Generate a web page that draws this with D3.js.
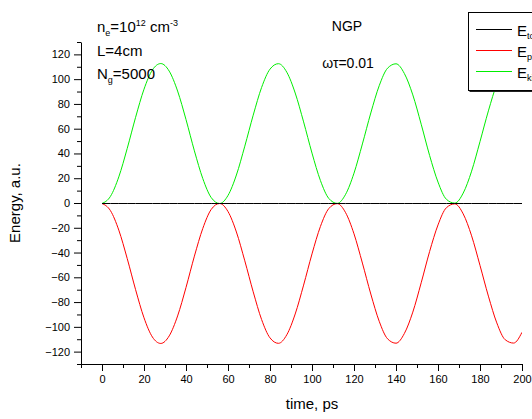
<!DOCTYPE html>
<html>
<head>
<meta charset="utf-8">
<script src="https://cdn.jsdelivr.net/npm/d3@7"></script>
<style>
  body { margin: 0; background: #fff; }
  svg { display: block; font-family: Arial, "Liberation Sans", sans-serif; }
</style>
</head>
<body>
<svg id="chart" width="532" height="419"></svg>
<script>
// time samples, ps
var time = [0,4,8,12,16,20,24,28,32,36,40,44,48,52,56,60,64,68,72,76,80,84,88,92,96,100,
            104,108,112,116,120,124,128,132,136,140,144,148,152,156,160,164,168,172,176,180,
            184,188,192,196,200];
// kinetic energy
var eKin = [0,5.7,21.5,44.4,69.6,92.3,107.8,113,106.9,90.8,67.8,42.5,20.1,4.8,0,6.5,23,46.3,
            71.3,93.7,108.5,112.9,106,89.2,65.9,40.7,18.6,4.1,0.1,7.4,24.5,48.1,73.1,95.1,
            109.3,112.8,104.9,87.7,64,38.8,17.3,3.4,0.3,8.4,26.1,50,74.8,96.4,110,112.7,104];
// potential energy, red curve
var ePot = [0,-5.7,-21.5,-44.4,-69.6,-92.3,-107.8,-113,-106.9,-90.8,-67.8,-42.5,-20.1,-4.8,0,
            -6.5,-23,-46.3,-71.3,-93.7,-108.5,-112.9,-106,-89.2,-65.9,-40.7,-18.6,-4.1,-0.1,
            -7.4,-24.5,-48.1,-73.1,-95.1,-109.3,-112.8,-104.9,-87.7,-64,-38.8,-17.3,-3.4,-0.3,
            -8.4,-26.1,-50,-74.8,-96.4,-110,-112.7,-104];
// total energy, black line
var eTot = time.map(() => 0);

var xMajor = d3.range(0, 201, 20);
var xMinor = d3.range(-10, 200, 20);
var yMajor = d3.range(-120, 121, 20);
var yMinor = d3.range(-130, 131, 20);

var svg = d3.select("#chart");

var x = d3.scaleLinear().domain([-10, 200]).range([81, 522]);
var y = d3.scaleLinear().domain([-130, 130]).range([364, 42]);

// clip the curves to the plot area
svg.append("clipPath").attr("id", "plotclip")
  .append("rect")
    .attr("x", x(-10)).attr("y", y(130))
    .attr("width", x(200) - x(-10)).attr("height", y(-130) - y(130));

var series = [
  {name: "tot", color: "#000000", values: eTot},
  {name: "pot", color: "#ff0000", values: ePot},
  {name: "kin", color: "#00ee00", values: eKin}
];

var line = d3.line()
  .x((d, i) => x(time[i]))
  .y(d => y(d) + 0.5)   // half pixel so the flat line is crisp
  .curve(d3.curveMonotoneX);

// draw the total energy last so it sits on top
svg.append("g").attr("clip-path", "url(#plotclip)")
  .selectAll("path")
  .data(series.slice().reverse())
  .enter()
  .append("path")
    .attr("fill", "none")
    .attr("stroke", d => d.color)
    .attr("stroke-width", 1)
    .attr("d", d => line(d.values));

// axes
svg.append("g")
  .attr("transform", "translate(0," + y(-130) + ")")
  .call(d3.axisBottom(x).tickValues(xMajor).tickSize(7).tickSizeOuter(0).tickPadding(4));
svg.append("g")
  .attr("transform", "translate(0," + y(-130) + ")")
  .call(d3.axisBottom(x).tickValues(xMinor).tickSize(4).tickFormat(""))
  .select(".domain").remove();

svg.append("g")
  .attr("transform", "translate(" + x(-10) + ",0)")
  .call(d3.axisLeft(y).tickValues(yMajor).tickSize(7).tickSizeOuter(0).tickPadding(4));
svg.append("g")
  .attr("transform", "translate(" + x(-10) + ",0)")
  .call(d3.axisLeft(y).tickValues(yMinor).tickSize(4).tickFormat(""))
  .select(".domain").remove();

svg.selectAll(".tick text").attr("font-size", 11).attr("fill", "#000")
  .attr("font-family", "Arial, 'Liberation Sans', sans-serif");
svg.selectAll(".domain, .tick line").attr("stroke", "#000");

// axis titles
svg.append("text")
  .attr("x", 312).attr("y", 409)
  .attr("text-anchor", "middle").attr("font-size", 15)
  .text("time, ps");

svg.append("text")
  .attr("transform", "translate(20,203) rotate(-90)")
  .attr("text-anchor", "middle").attr("font-size", 15)
  .text("Energy, a.u.");

// annotations
var note = svg.append("g").attr("font-size", 15);
var t1 = note.append("text").attr("x", 97).attr("y", 32);
t1.append("tspan").text("n");
t1.append("tspan").attr("font-size", 9).attr("dy", 4).text("e");
t1.append("tspan").attr("dy", -4).text("=10");
t1.append("tspan").attr("font-size", 9).attr("dy", -6).text("12");
t1.append("tspan").attr("dy", 6).text(" cm");
t1.append("tspan").attr("font-size", 9).attr("dy", -6).text("-3");

note.append("text").attr("x", 97).attr("y", 56).text("L=4cm");

var t3 = note.append("text").attr("x", 97).attr("y", 79);
t3.append("tspan").text("N");
t3.append("tspan").attr("font-size", 9).attr("dy", 4).text("g");
t3.append("tspan").attr("dy", -4).text("=5000");

note.append("text").attr("x", 347).attr("y", 31).attr("text-anchor", "middle")
  .attr("font-size", 14).text("NGP");
note.append("text").attr("x", 348).attr("y", 68).attr("text-anchor", "middle")
  .attr("font-size", 14).text("ωτ=0.01");

// legend (runs past the right edge, as in the original)
var legend = svg.append("g");
legend.append("rect")
  .attr("x", 469.5).attr("y", 13.5).attr("width", 100).attr("height", 78.5)
  .attr("fill", "#222");
legend.append("rect")
  .attr("x", 468.5).attr("y", 12.5).attr("width", 100).attr("height", 78)
  .attr("fill", "#fff").attr("stroke", "#000").attr("stroke-width", 1);

series.forEach(function(s, i) {
  var ly = 29.5 + i * 21;
  legend.append("line")
    .attr("x1", 476).attr("x2", 512).attr("y1", ly).attr("y2", ly)
    .attr("stroke", s.color).attr("stroke-width", 1);
  var lt = legend.append("text").attr("x", 517).attr("y", ly + 6).attr("font-size", 15);
  lt.append("tspan").text("E");
  lt.append("tspan").attr("font-size", 9).attr("dy", 3).text(s.name);
});
</script>
</body>
</html>
